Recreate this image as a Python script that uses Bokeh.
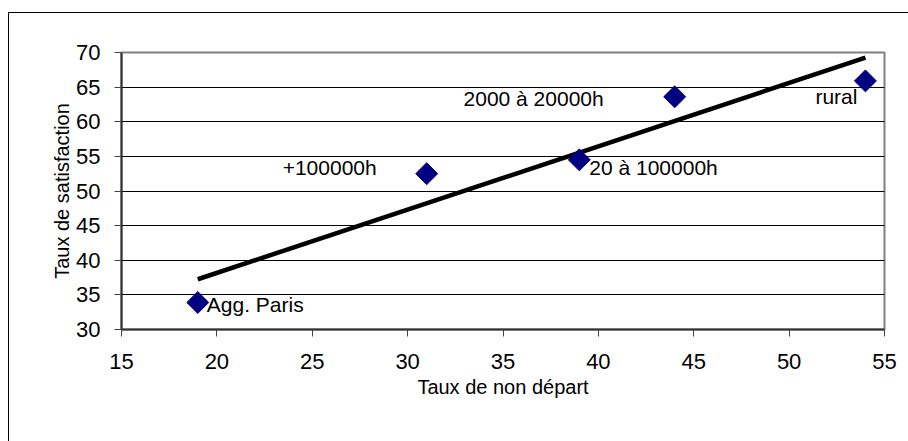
import numpy as np
from bokeh.plotting import figure
from bokeh.models import Range1d, FixedTicker, ColumnDataSource
from bokeh.core.properties import value
from bokeh.embed import file_html
from bokeh.resources import INLINE

# ---- data ----
categories = ["Agg. Paris", "+100000h", "20 à 100000h", "2000 à 20000h", "rural"]
taux_non_depart = [19, 31, 39, 44, 54]
taux_satisfaction = [33.9, 52.5, 54.5, 63.6, 65.9]
x_ticks = [15, 20, 25, 30, 35, 40, 45, 50, 55]
y_ticks = [30, 35, 40, 45, 50, 55, 60, 65, 70]
x_title = "Taux de non départ"
y_title = "Taux de satisfaction"

# label placement (screen offsets, px) and alignment per point
label_dx = [9, -50, 10, -71, -8]
label_dy = [2, -6, 8, 2, 16]
label_align = ["left", "right", "left", "right", "right"]

FONT = "Liberation Sans"

p = figure(width=906, height=438, output_backend="svg", toolbar_location=None,
           x_range=Range1d(x_ticks[0], x_ticks[-1]), y_range=Range1d(y_ticks[0], y_ticks[-1]),
           min_border_left=121, min_border_top=52, min_border_right=22, min_border_bottom=109,
           background_fill_color="white", border_fill_color="white")

p.outline_line_color = "#808080"
p.outline_line_width = 2

# grid
p.xgrid.visible = False
p.ygrid.ticker = FixedTicker(ticks=y_ticks[1:-1])
p.ygrid.grid_line_color = "#000000"
p.ygrid.grid_line_width = 1

# axes
for ax in (p.xaxis[0], p.yaxis[0]):
    ax.axis_line_color = "#333333"
    ax.axis_line_width = 2
    ax.major_tick_line_color = "#444444"
    ax.major_tick_line_width = 1
    ax.major_tick_in = 0
    ax.major_tick_out = 7
    ax.minor_tick_line_color = None
    ax.major_label_text_font = FONT
    ax.major_label_text_font_size = "22px"
    ax.major_label_text_color = "#000000"
    ax.axis_label_text_font = FONT
    ax.axis_label_text_font_size = "20px"
    ax.axis_label_text_font_style = "normal"
    ax.axis_label_text_color = "#000000"

p.xaxis.ticker = FixedTicker(ticks=x_ticks)
p.yaxis.ticker = FixedTicker(ticks=y_ticks)
p.xaxis.major_label_standoff = 17
p.yaxis.major_label_standoff = 14
p.xaxis.axis_label_standoff = 4
p.yaxis.axis_label_standoff = 0
p.xaxis.axis_label = x_title
p.yaxis.axis_label = y_title

# trend line (least squares)
coef = np.polyfit(taux_non_depart, taux_satisfaction, 1)
tx = [min(taux_non_depart), max(taux_non_depart)]
ty = [coef[0] * v + coef[1] for v in tx]
p.line(tx, ty, line_color="#000000", line_width=4.5)

src = ColumnDataSource(dict(x=taux_non_depart, y=taux_satisfaction, label=categories,
                            dx=label_dx, dy=label_dy, align=label_align))
p.scatter("x", "y", source=src, marker="square", angle=np.pi / 4, size=15.5,
          fill_color="#000080", line_color="#000080")

p.text("x", "y", text="label", source=src, x_offset="dx", y_offset="dy",
       text_align="align", text_baseline="alphabetic",
       text_font=value(FONT), text_font_size="21px", text_color="#000000")

html = file_html(p, INLINE)
# outer chart-area frame: only its left and top edges lie inside the window
frame_div = ('<div style="position:absolute; left:8px; top:12px; width:2000px; height:2000px; '
             'border-left:1px solid #000000; border-top:1px solid #000000; '
             'background:transparent; pointer-events:none; z-index:10;"></div>')
html = html.replace("</head>", "<style>html, body { overflow: hidden; }</style></head>", 1)
html = html.replace("</body>", frame_div + "</body>", 1)
open("out.html", "w").write(html)
